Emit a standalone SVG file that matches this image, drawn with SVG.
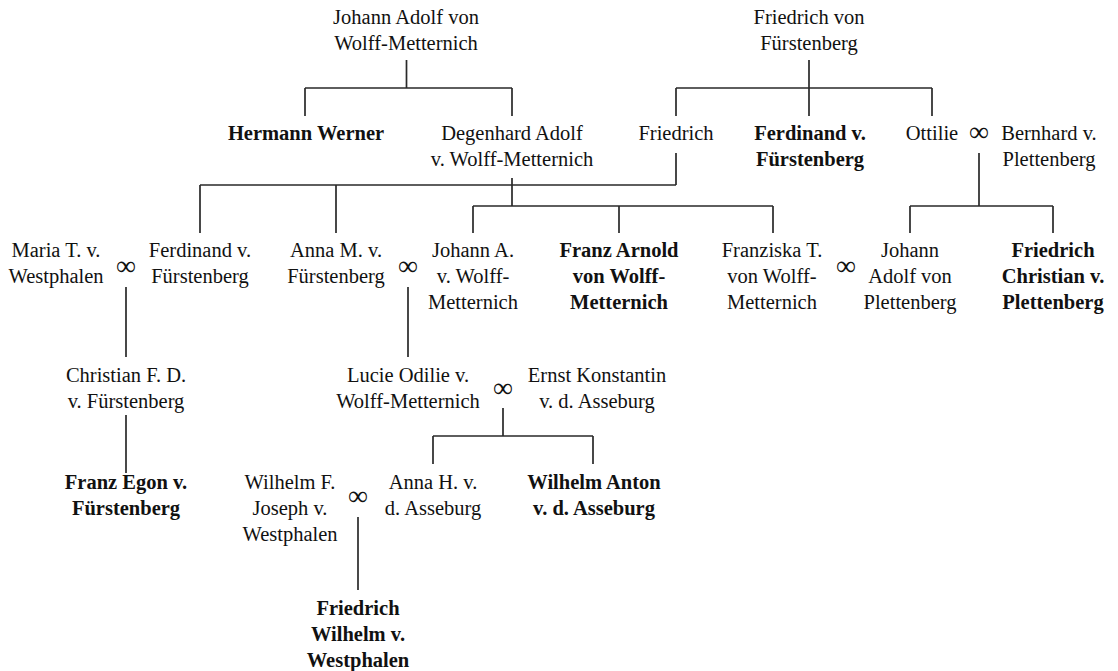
<svg xmlns="http://www.w3.org/2000/svg" width="1118" height="671" viewBox="0 0 1118 671">
<style>
.t{font-family:"Liberation Serif","Times New Roman",serif;font-size:20.5px;fill:#111;text-anchor:middle}
.b{font-weight:bold}
.m{font-size:28px}
.c{stroke:#2a2a2a;stroke-width:1.7;fill:none}
</style>
<rect width="1118" height="671" fill="#fff"/>
<g id="connectors" class="c">
<path d="M406.5 60V88M305 88H512M305 88V116M512 88V116"/>
<path d="M809 60V116M676 88H932M676 88V116M932 88V116"/>
<path d="M512 178V206M473 206H773M473 206V233M619 206V233M773 206V233"/>
<path d="M676 153V185M200 185H676M200 185V233M336 185V233"/>
<path d="M979 153V206M910 206H1053M910 206V233M1053 206V233"/>
<path d="M126 287V357M408 287V357"/>
<path d="M126 415V473"/>
<path d="M503 408V436M433 436H593M433 436V464M593 436V464"/>
<path d="M358 517V590"/>
</g>
<g id="johann-adolf"><text class="t" x="406" y="24">Johann Adolf von<tspan x="406" dy="26">Wolff-Metternich</tspan></text></g>
<g id="friedrich-von-fuerstenberg"><text class="t" x="809" y="24">Friedrich von<tspan x="809" dy="26">Fürstenberg</tspan></text></g>
<g id="hermann-werner"><text class="t b" x="306" y="140">Hermann Werner</text></g>
<g id="degenhard-adolf"><text class="t" x="512" y="140">Degenhard Adolf<tspan x="512" dy="26">v. Wolff-Metternich</tspan></text></g>
<g id="friedrich"><text class="t" x="676" y="140">Friedrich</text></g>
<g id="ferdinand-v-fuerstenberg-1"><text class="t b" x="810" y="140">Ferdinand v.<tspan x="810" dy="26">Fürstenberg</tspan></text></g>
<g id="ottilie"><text class="t" x="932" y="140">Ottilie</text></g>
<g id="m-ottilie"><text class="t m" x="979" y="141">∞</text></g>
<g id="bernhard"><text class="t" x="1049" y="140">Bernhard v.<tspan x="1049" dy="26">Plettenberg</tspan></text></g>
<g id="maria"><text class="t" x="56" y="257">Maria T. v.<tspan x="56" dy="26">Westphalen</tspan></text></g>
<g id="m-maria"><text class="t m" x="126" y="275">∞</text></g>
<g id="ferdinand-v-fuerstenberg-2"><text class="t" x="200" y="257">Ferdinand v.<tspan x="200" dy="26">Fürstenberg</tspan></text></g>
<g id="anna-m"><text class="t" x="336" y="257">Anna M. v.<tspan x="336" dy="26">Fürstenberg</tspan></text></g>
<g id="m-anna"><text class="t m" x="408" y="275">∞</text></g>
<g id="johann-a"><text class="t" x="473" y="257">Johann A.<tspan x="473" dy="26">v. Wolff-</tspan><tspan x="473" dy="26">Metternich</tspan></text></g>
<g id="franz-arnold"><text class="t b" x="619" y="257">Franz Arnold<tspan x="619" dy="26">von Wolff-</tspan><tspan x="619" dy="26">Metternich</tspan></text></g>
<g id="franziska"><text class="t" x="772" y="257">Franziska T.<tspan x="772" dy="26">von Wolff-</tspan><tspan x="772" dy="26">Metternich</tspan></text></g>
<g id="m-franziska"><text class="t m" x="846" y="275">∞</text></g>
<g id="johann-adolf-plettenberg"><text class="t" x="910" y="257">Johann<tspan x="910" dy="26">Adolf von</tspan><tspan x="910" dy="26">Plettenberg</tspan></text></g>
<g id="friedrich-christian"><text class="t b" x="1053" y="257">Friedrich<tspan x="1053" dy="26">Christian v.</tspan><tspan x="1053" dy="26">Plettenberg</tspan></text></g>
<g id="christian"><text class="t" x="126" y="382">Christian F. D.<tspan x="126" dy="26">v. Fürstenberg</tspan></text></g>
<g id="lucie"><text class="t" x="408" y="382">Lucie Odilie v.<tspan x="408" dy="26">Wolff-Metternich</tspan></text></g>
<g id="m-lucie"><text class="t m" x="503" y="397">∞</text></g>
<g id="ernst"><text class="t" x="597" y="382">Ernst Konstantin<tspan x="597" dy="26">v. d. Asseburg</tspan></text></g>
<g id="franz-egon"><text class="t b" x="126" y="489">Franz Egon v.<tspan x="126" dy="26">Fürstenberg</tspan></text></g>
<g id="wilhelm-f"><text class="t" x="290" y="489">Wilhelm F.<tspan x="290" dy="26">Joseph v.</tspan><tspan x="290" dy="26">Westphalen</tspan></text></g>
<g id="m-wilhelm"><text class="t m" x="358" y="505">∞</text></g>
<g id="anna-h"><text class="t" x="433" y="489">Anna H. v.<tspan x="433" dy="26">d. Asseburg</tspan></text></g>
<g id="wilhelm-anton"><text class="t b" x="594" y="489">Wilhelm Anton<tspan x="594" dy="26">v. d. Asseburg</tspan></text></g>
<g id="friedrich-wilhelm"><text class="t b" x="358" y="615">Friedrich<tspan x="358" dy="26">Wilhelm v.</tspan><tspan x="358" dy="26">Westphalen</tspan></text></g>
</svg>
